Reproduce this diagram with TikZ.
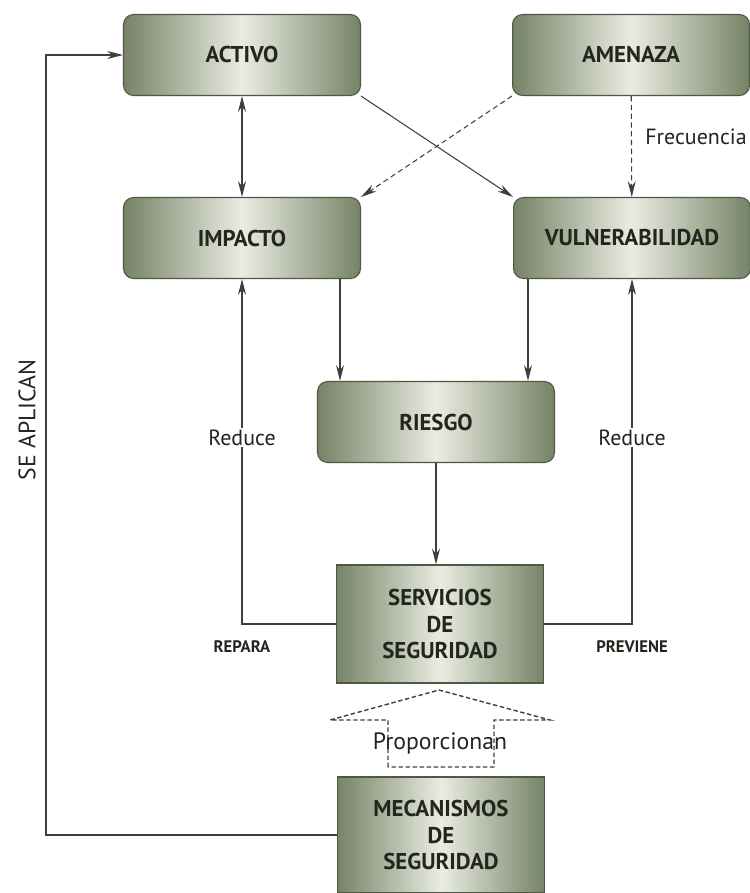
\documentclass[tikz,border=0pt]{standalone}
\usepackage{fontspec}
\setmainfont{PT Sans}
\usetikzlibrary{arrows.meta}

\definecolor{boxdark}{RGB}{118,131,102}
\definecolor{boxlight}{RGB}{234,236,226}
\definecolor{boxline}{RGB}{78,88,68}
\definecolor{ink}{RGB}{34,38,30}
\definecolor{wire}{RGB}{62,64,60}

\tikzset{
  >={Stealth[length=9pt,width=4.5pt]},
  concept/.style={rectangle, rounded corners=0.2cm, draw=boxline, line width=0.6pt,
    left color=boxdark, right color=boxdark, middle color=boxlight, text=ink,
    font=\fontsize{13}{15}\selectfont\bfseries, align=center, inner sep=0pt,
    minimum width=4.74cm, minimum height=1.62cm},
  service/.style={concept, sharp corners, minimum width=4.14cm, minimum height=2.36cm},
  tag/.style={text=ink, font=\fontsize{12.5}{15}\selectfont},
  smalltag/.style={text=ink, font=\fontsize{9.5}{11}\selectfont\bfseries},
  link/.style={draw=wire, line width=0.6pt, ->},
  hint/.style={dash pattern=on 3pt off 2pt},
}

\begin{document}
\begin{tikzpicture}[x=0.02cm, y=-0.02cm]

        \useasboundingbox (0,0) rectangle (750,893);

        \begin{scope}[every node/.style={concept}]
          \node (activo)         at (242,55)  {ACTIVO};
          \node (amenaza)        at (631,55)  {AMENAZA};
          \node (impacto)        at (242,238) {IMPACTO};
          \node (vulnerabilidad) at (632,238) {VULNERABILIDAD};
          \node (riesgo)         at (436,422) {RIESGO};
        \end{scope}

        \begin{scope}[every node/.style={service}]
          \node (servicios)  at (440,624) {SERVICIOS\\DE\\SEGURIDAD};
          \node[minimum height=2.32cm] (mecanismos) at (441,835) {MECANISMOS\\DE\\SEGURIDAD};
        \end{scope}

        \coordinate (impacto out) at ([xshift=-0.42cm]impacto.south east);
        \coordinate (vulnerabilidad out) at ([xshift=0.3cm]vulnerabilidad.south west);
        \coordinate (aplican) at (46,0);

        \begin{scope}[every edge/.style={link}]
          \path (activo) edge[<->] (impacto);
          \path (activo.south east) edge (vulnerabilidad.north west);
          \path (amenaza.south west) edge[hint] (impacto.north east);
          \path (amenaza) edge[hint] node[tag, right=0.15cm, pos=0.4] (frecuencia) {Frecuencia} (vulnerabilidad);
          \path (impacto out) edge (impacto out |- riesgo.north);
          \path (vulnerabilidad out) edge (vulnerabilidad out |- riesgo.north);
          \path (riesgo.south) edge (riesgo.south |- servicios.north);
        \end{scope}

        \draw[link] (servicios.west) -| node[smalltag, below=0.2cm, pos=0.5] (repara) {REPARA}
          node[tag, fill=white, inner sep=1pt, pos=0.77] (reduce a) {Reduce} (impacto.south);
        \draw[link] (servicios.east) -| node[smalltag, below=0.2cm, pos=0.5] (previene) {PREVIENE}
          node[tag, fill=white, inner sep=1pt, pos=0.77] (reduce b) {Reduce} (vulnerabilidad.south);

        \draw[link] (mecanismos.west) -- (mecanismos.west -| aplican) |- (activo.west);
        \node[tag, rotate=90, font=\fontsize{13.5}{15}\selectfont] (se aplican) at (27,420) {SE APLICAN};

        \draw[wire, line width=0.8pt, dash pattern=on 2.5pt off 1.5pt]
          (388,767) -- (388,720) -- (330,720) -- (439,690) -- (550,720) -- (494,720) -- (494,767) -- cycle;
        \node[tag, font=\fontsize{13.5}{15}\selectfont] (proporcionan) at (440,743) {Proporcionan};

      \end{tikzpicture}
\end{document}
